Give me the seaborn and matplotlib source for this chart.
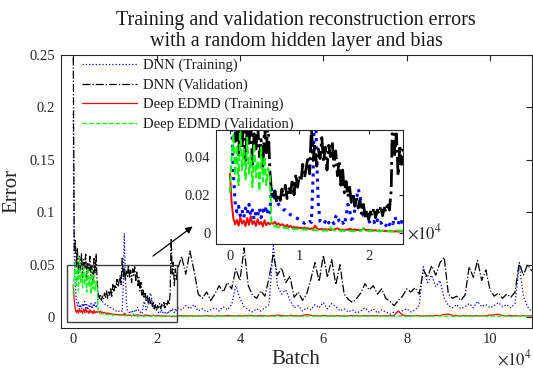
import numpy as np
import matplotlib
matplotlib.use("Agg")
import matplotlib.pyplot as plt
import seaborn as sns
from matplotlib.patches import Rectangle
from matplotlib.ticker import FuncFormatter

# Batch indices: fine logging over the first 25k batches, coarser afterwards
batch_early = np.arange(0, 25000, 250)
batch_late = np.arange(25000, 110001, 1000)
batch = np.concatenate([batch_early, batch_late])

# DNN, training error
dnn_train_early = [
    0.194, 0.058, 0.031, 0.016, 0.011, 0.014, 0.009, 0.012, 0.008, 0.013,
    0.010, 0.015, 0.009, 0.012, 0.007, 0.011, 0.009, 0.013, 0.008, 0.012,
    0.010, 0.014, 0.009, 0.011, 0.023, 0.020, 0.018, 0.017, 0.015, 0.014,
    0.013, 0.012, 0.012, 0.011, 0.010, 0.0095, 0.009, 0.0085, 0.008, 0.0075,
    0.007, 0.006, 0.0055, 0.005, 0.0058, 0.0052, 0.006, 0.0055, 0.030, 0.080,
    0.040, 0.015, 0.006, 0.005, 0.0045, 0.006, 0.004, 0.0055, 0.0045, 0.006,
    0.0048, 0.0085, 0.0095, 0.006, 0.0045, 0.0055, 0.004, 0.009, 0.015, 0.012,
    0.007, 0.008, 0.012, 0.018, 0.023, 0.020, 0.013, 0.009, 0.0075, 0.0095,
    0.0065, 0.005, 0.0045, 0.006, 0.0042, 0.0068, 0.0045, 0.0055, 0.004, 0.005,
    0.0038, 0.0058, 0.0042, 0.0062, 0.0048, 0.0085, 0.0065, 0.0045, 0.0072, 0.0055,
]
dnn_train_late = [
    0.009, 0.007, 0.011, 0.008, 0.012, 0.006, 0.008, 0.005, 0.007, 0.009,
    0.006, 0.010, 0.007, 0.012, 0.030, 0.018, 0.010, 0.007, 0.005, 0.008,
    0.006, 0.009, 0.012, 0.068, 0.030, 0.022, 0.026, 0.016, 0.009, 0.011,
    0.006, 0.009, 0.007, 0.012, 0.009, 0.014, 0.008, 0.013, 0.010, 0.006,
    0.008, 0.005, 0.007, 0.004, 0.006, 0.009, 0.005, 0.008, 0.004, 0.007,
    0.005, 0.003, 0.005, 0.004, 0.006, 0.008, 0.005, 0.007, 0.011, 0.048,
    0.033, 0.040, 0.029, 0.035, 0.018, 0.011, 0.009, 0.012, 0.008, 0.010,
    0.013, 0.009, 0.015, 0.010, 0.012, 0.009, 0.011, 0.014, 0.010, 0.012,
    0.009, 0.013, 0.050, 0.020, 0.010, 0.005,
]

# DNN, validation error
dnn_val_early = [
    0.260, 0.062, 0.073, 0.048, 0.066, 0.041, 0.058, 0.045, 0.061, 0.038,
    0.055, 0.047, 0.060, 0.036, 0.052, 0.044, 0.058, 0.040, 0.049, 0.034,
    0.056, 0.042, 0.060, 0.033, 0.021, 0.018, 0.022, 0.016, 0.020, 0.017,
    0.023, 0.019, 0.025, 0.018, 0.024, 0.021, 0.028, 0.020, 0.031, 0.024,
    0.030, 0.027, 0.036, 0.029, 0.034, 0.040, 0.031, 0.056, 0.038, 0.047,
    0.035, 0.044, 0.039, 0.050, 0.037, 0.045, 0.033, 0.046, 0.040, 0.048,
    0.035, 0.043, 0.030, 0.038, 0.025, 0.033, 0.021, 0.027, 0.019, 0.024,
    0.016, 0.021, 0.014, 0.019, 0.013, 0.017, 0.010, 0.015, 0.008, 0.012,
    0.007, 0.011, 0.009, 0.013, 0.008, 0.012, 0.010, 0.014, 0.009, 0.013,
    0.011, 0.016, 0.012, 0.022, 0.075, 0.041, 0.052, 0.030, 0.046, 0.036,
]
dnn_val_late = [
    0.045, 0.058, 0.041, 0.063, 0.044, 0.022, 0.018, 0.024, 0.016, 0.022,
    0.030, 0.024, 0.033, 0.027, 0.046, 0.035, 0.066, 0.030, 0.021, 0.018,
    0.025, 0.020, 0.038, 0.060, 0.040, 0.047, 0.033, 0.039, 0.019, 0.024,
    0.016, 0.022, 0.036, 0.052, 0.034, 0.059, 0.038, 0.055, 0.031, 0.050,
    0.022, 0.017, 0.014, 0.018, 0.023, 0.032, 0.026, 0.030, 0.022, 0.027,
    0.018, 0.015, 0.011, 0.016, 0.020, 0.027, 0.024, 0.028, 0.022, 0.045,
    0.038, 0.049, 0.040, 0.052, 0.057, 0.022, 0.018, 0.020, 0.016, 0.021,
    0.048, 0.038, 0.054, 0.035, 0.045, 0.026, 0.020, 0.023, 0.018, 0.022,
    0.019, 0.024, 0.052, 0.040, 0.050, 0.044,
]

# Deep EDMD, training error
edmd_train_early = [
    0.031, 0.016, 0.0075, 0.0045, 0.0068, 0.0038, 0.0082, 0.0048, 0.0065, 0.0035,
    0.0078, 0.0042, 0.0088, 0.0046, 0.0062, 0.0036, 0.0072, 0.0044, 0.0058, 0.0034,
    0.0066, 0.0040, 0.0054, 0.0045, 0.0052, 0.0048, 0.0058, 0.0042, 0.0050, 0.0038,
    0.0046, 0.0040, 0.0034, 0.0042, 0.0030, 0.0036, 0.0028, 0.0032, 0.0026, 0.0030,
    0.0025, 0.0027, 0.0023, 0.0028, 0.0022, 0.0025, 0.0020, 0.0024, 0.0019, 0.0038,
    0.0026, 0.0020, 0.0018, 0.0022, 0.0017, 0.0020, 0.0016, 0.0019, 0.0015, 0.0018,
    0.0016, 0.0021, 0.0024, 0.0019, 0.0015, 0.0017, 0.0014, 0.0018, 0.0016, 0.0022,
    0.0018, 0.0015, 0.0019, 0.0014, 0.0017, 0.0013, 0.0016, 0.0021, 0.0017, 0.0014,
    0.0016, 0.0013, 0.0015, 0.0012, 0.0014, 0.0011, 0.0013, 0.0010, 0.0012, 0.0009,
    0.0011, 0.0008, 0.0010, 0.0008, 0.0009, 0.0007, 0.0009, 0.0006, 0.0008, 0.0007,
]
edmd_train_late = [
    0.0012, 0.0015, 0.0011, 0.0014, 0.0010, 0.0013, 0.0011, 0.0016, 0.0012, 0.0010,
    0.0014, 0.0011, 0.0017, 0.0013, 0.0011, 0.0015, 0.0012, 0.0018, 0.0014, 0.0012,
    0.0016, 0.0013, 0.0011, 0.0015, 0.0020, 0.0016, 0.0013, 0.0017, 0.0014, 0.0012,
    0.0016, 0.0025, 0.0018, 0.0014, 0.0012, 0.0016, 0.0013, 0.0011, 0.0015, 0.0012,
    0.0010, 0.0014, 0.0017, 0.0013, 0.0011, 0.0015, 0.0012, 0.0016, 0.0013, 0.0011,
    0.0015, 0.0012, 0.0018, 0.0060, 0.0020, 0.0014, 0.0012, 0.0016, 0.0013, 0.0011,
    0.0015, 0.0012, 0.0017, 0.0016, 0.0025, 0.0030, 0.0018, 0.0014, 0.0012, 0.0016,
    0.0013, 0.0011, 0.0015, 0.0012, 0.0016, 0.0020, 0.0022, 0.0028, 0.0015, 0.0012,
    0.0016, 0.0013, 0.0011, 0.0015, 0.0012, 0.0013,
]

# Deep EDMD, validation error
edmd_val_early = [
    0.021, 0.040, 0.052, 0.030, 0.046, 0.025, 0.057, 0.033, 0.044, 0.028,
    0.050, 0.031, 0.041, 0.024, 0.047, 0.029, 0.038, 0.022, 0.045, 0.027,
    0.040, 0.025, 0.034, 0.030, 0.0045, 0.0038, 0.0032, 0.0035, 0.0028, 0.0031,
    0.0026, 0.0029, 0.0024, 0.0027, 0.0022, 0.0025, 0.0020, 0.0023, 0.0019, 0.0021,
    0.0018, 0.0020, 0.0017, 0.0019, 0.0016, 0.0018, 0.0015, 0.0017, 0.0014, 0.0016,
    0.0013, 0.0015, 0.0012, 0.0014, 0.0011, 0.0013, 0.0011, 0.0016, 0.0030, 0.0018,
    0.0012, 0.0014, 0.0011, 0.0013, 0.0010, 0.0012, 0.0010, 0.0011, 0.0009, 0.0011,
    0.0009, 0.0010, 0.0008, 0.0010, 0.0008, 0.0009, 0.0012, 0.0025, 0.0014, 0.0010,
    0.0009, 0.0011, 0.0009, 0.0010, 0.0008, 0.0010, 0.0008, 0.0009, 0.0012, 0.0010,
    0.0008, 0.0009, 0.0007, 0.0009, 0.0007, 0.0008, 0.0011, 0.0014, 0.0010, 0.0012,
]
edmd_val_late = [
    0.0010, 0.0008, 0.0011, 0.0009, 0.0012, 0.0010, 0.0008, 0.0011, 0.0009, 0.0007,
    0.0010, 0.0012, 0.0009, 0.0008, 0.0011, 0.0010, 0.0008, 0.0012, 0.0009, 0.0011,
    0.0008, 0.0010, 0.0012, 0.0009, 0.0011, 0.0008, 0.0010, 0.0013, 0.0009, 0.0011,
    0.0008, 0.0010, 0.0012, 0.0009, 0.0011, 0.0008, 0.0010, 0.0009, 0.0012, 0.0010,
    0.0008, 0.0011, 0.0009, 0.0012, 0.0010, 0.0008, 0.0011, 0.0009, 0.0012, 0.0010,
    0.0008, 0.0011, 0.0009, 0.0012, 0.0010, 0.0008, 0.0011, 0.0013, 0.0010, 0.0009,
    0.0011, 0.0008, 0.0010, 0.0012, 0.0009, 0.0011, 0.0008, 0.0010, 0.0012, 0.0009,
    0.0011, 0.0008, 0.0010, 0.0013, 0.0010, 0.0008, 0.0011, 0.0009, 0.0012, 0.0010,
    0.0008, 0.0011, 0.0009, 0.0012, 0.0010, 0.0011,
]

series = [
    ("DNN (Training)", dnn_train_early + dnn_train_late, "#0000ff", ":", 2.2),
    ("DNN (Validation)", dnn_val_early + dnn_val_late, "#000000", "-.", 2.0),
    ("Deep EDMD (Training)", edmd_train_early + edmd_train_late, "#ff0000", "-", 1.4),
    ("Deep EDMD (Validation)", edmd_val_early + edmd_val_late, "#00ff00", "--", 1.4),
]

sns.set_theme(style="white")
plt.rcParams["font.family"] = ["Liberation Serif", "DejaVu Serif"]
plt.rcParams["mathtext.fontset"] = "stix"
axis_grey = "#262626"

fig = plt.figure(figsize=(5.33, 3.70), dpi=100)
ax = fig.add_axes([0.1139, 0.1143, 0.8837, 0.7379])

for name, vals, color, ls, _ in series:
    sns.lineplot(x=batch, y=vals, ax=ax, color=color, linestyle=ls,
                 linewidth=0.9, label=name, estimator=None, sort=False)

ax.set_xlim(-3000, 110000)
ax.set_ylim(-0.01, 0.25)
ax.set_xticks([0, 20000, 40000, 60000, 80000, 100000])
ax.set_yticks([0, 0.05, 0.1, 0.15, 0.2, 0.25])
ax.xaxis.set_major_formatter(FuncFormatter(lambda v, p: f"{v / 1e4:g}"))
ax.yaxis.set_major_formatter(FuncFormatter(lambda v, p: f"{v:g}"))
ax.tick_params(direction="in", top=True, right=True, length=4, width=0.8,
               labelsize=10.5, colors=axis_grey, pad=4)
for s in ax.spines.values():
    s.set_color(axis_grey)
    s.set_linewidth(0.8)

ax.set_xlabel("Batch", fontsize=15, color=axis_grey, labelpad=3)
ax.set_ylabel("Error", fontsize=15, color=axis_grey, labelpad=6)
ax.set_title("Training and validation reconstruction errors\nwith a random hidden layer and bias",
             fontsize=14.5, color="#1a1a1a", pad=6, linespacing=1.2)
ax.text(1.0, -0.08, r"$\times 10^4$", transform=ax.transAxes, ha="right",
        va="top", fontsize=12, color=axis_grey)

leg = ax.legend(loc="upper left", bbox_to_anchor=(0.045, 0.985), frameon=False,
                fontsize=10.5, handlelength=3.8, handletextpad=0.4,
                labelspacing=0.42, borderpad=0, borderaxespad=0)
for t in leg.get_texts():
    t.set_color("#1a1a1a")

# zoom window and pointer
ax.add_patch(Rectangle((-1500, -0.005), 26500, 0.055, fill=False,
                       edgecolor="#404040", linewidth=1.0, zorder=5))
ax.annotate("", xy=(29200, 0.088), xytext=(18600, 0.0566),
            arrowprops=dict(arrowstyle="-|>", color="black", lw=0.9,
                            mutation_scale=10))

# inset with the first 25k batches
ins = fig.add_axes([0.4053, 0.3397, 0.3514, 0.3090])
ins.set_facecolor("white")
for name, vals, color, ls, lw in series:
    sns.lineplot(x=batch, y=vals, ax=ins, color=color, linestyle=ls,
                 linewidth=lw, estimator=None, sort=False, legend=False)
ins.set_xlim(-2000, 25000)
ins.set_ylim(-0.006, 0.054)
ins.set_xticks([0, 10000, 20000])
ins.set_yticks([0, 0.02, 0.04])
ins.xaxis.set_major_formatter(FuncFormatter(lambda v, p: f"{v / 1e4:g}"))
ins.yaxis.set_major_formatter(FuncFormatter(lambda v, p: f"{v:g}"))
ins.tick_params(direction="in", top=True, right=True, length=3, width=0.8,
                labelsize=10.5, colors=axis_grey, pad=4)
for s in ins.spines.values():
    s.set_color(axis_grey)
    s.set_linewidth(0.8)
ins.set_xlabel("")
ins.set_ylabel("")
ins.text(1.02, 0.10, r"$\times 10^4$", transform=ins.transAxes, ha="left",
         va="center", fontsize=12, color=axis_grey)

fig.savefig("out.png", dpi=100)
